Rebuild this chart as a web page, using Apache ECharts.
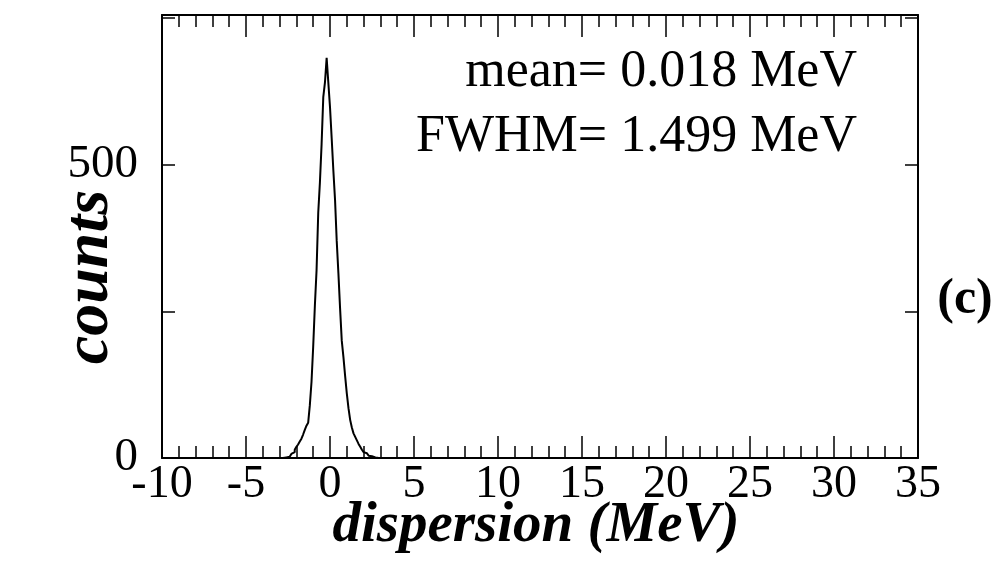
<!DOCTYPE html>
<html><head><meta charset="utf-8">
<script src="https://cdn.jsdelivr.net/npm/echarts@6/dist/echarts.min.js"></script>
<style>html,body{margin:0;padding:0;background:#fff}#c{width:998px;height:572px}</style>
</head><body><div id="c"></div>
<script>
// histogram bin left edges (MeV), bin width 0.1
const binEdges = [-2.8,-2.7,-2.6,-2.5,-2.4,-2.3,-2.2,-2.1,-2.0,-1.9,-1.8,-1.7,-1.6,-1.5,-1.4,-1.3,-1.2,-1.1,-1.0,-0.9,-0.8,-0.7,-0.6,-0.5,-0.4,-0.3,-0.2,-0.1,0.0,0.1,0.2,0.3,0.4,0.5,0.6,0.7,0.8,0.9,1.0,1.1,1.2,1.3,1.4,1.5,1.6,1.7,1.8,1.9,2.0,2.1,2.2,2.3,2.4,2.5,2.6,2.7,2.8,2.9];
const counts =   [0,1,1,2,4,7,10,14,19,23,28,33,40,48,55,60,90,130,190,260,320,418,470,535,615,640,682,640,598,545,490,440,370,315,255,200,172,140,110,85,65,52,42,36,30,24,19,14,10,8,6,4,3,2,1,1,0,0];
const xRange = [-10, 35];
const yRange = [0, 755];
const yLabels = {0:'0', 500:'500'};
const title1 = 'mean= 0.018 MeV';
const title2 = 'FWHM= 1.499 MeV';
const panel = '(c)';
const xName = 'dispersion (MeV)';
const yName = 'counts';

const serif = '"Liberation Serif","Times New Roman",serif';
const data = binEdges.map((e,i)=>[e, counts[i]]);

const chart = echarts.init(document.getElementById('c'), null, {renderer:'canvas'});
const axisLine = {show:true, onZero:false, lineStyle:{color:'#000', width:2}};
const xCommon = {
  type:'value', min:xRange[0], max:xRange[1], interval:5,
  axisLine, splitLine:{show:false},
  axisTick:{show:true, inside:true, length:22, lineStyle:{color:'#000', width:1.5}},
  minorTick:{show:true, splitNumber:5, length:12, lineStyle:{color:'#000', width:1.5}},
  minorSplitLine:{show:false}
};
const yCommon = {
  type:'value', min:yRange[0], max:yRange[1], interval:250,
  axisLine, splitLine:{show:false},
  axisTick:{show:true, inside:true, length:13, lineStyle:{color:'#000', width:1.5}}
};
chart.setOption({
  animation:false,
  backgroundColor:'#fff',
  grid:{left:162, right:80, top:15, bottom:114, containLabel:false},
  xAxis:[
    Object.assign({}, xCommon, {position:'bottom',
      axisLabel:{show:true, color:'#000', fontFamily:serif, fontSize:46, margin:4}}),
    Object.assign({}, xCommon, {position:'top', axisLabel:{show:false}})
  ],
  yAxis:[
    Object.assign({}, yCommon, {position:'left',
      axisLabel:{show:true, color:'#000', fontFamily:serif, fontSize:47, margin:24,
        formatter:v=>yLabels[v]||''}}),
    Object.assign({}, yCommon, {position:'right', axisLabel:{show:false}})
  ],
  series:[{
    type:'line', xAxisIndex:0, yAxisIndex:0, data, step:'end',
    showSymbol:false, symbol:'none',
    lineStyle:{color:'#000', width:2}
  }],
  graphic:[
    {type:'text', x:90, y:277, rotation:Math.PI/2,
      style:{text:yName, font:'italic bold 64px '+serif, fill:'#000', textAlign:'center', textVerticalAlign:'middle'}},
    {type:'text', x:536, y:526,
      style:{text:xName, font:'italic bold 57px '+serif, fill:'#000', textAlign:'center', textVerticalAlign:'middle'}},
    {type:'text', x:857, y:72,
      style:{text:title1, font:'52px '+serif, fill:'#000', textAlign:'right', textVerticalAlign:'middle'}},
    {type:'text', x:857, y:137,
      style:{text:title2, font:'52px '+serif, fill:'#000', textAlign:'right', textVerticalAlign:'middle'}},
    {type:'text', x:965, y:300,
      style:{text:panel, font:'bold 50px '+serif, fill:'#000', textAlign:'center', textVerticalAlign:'middle'}}
  ]
});
</script></body></html>
